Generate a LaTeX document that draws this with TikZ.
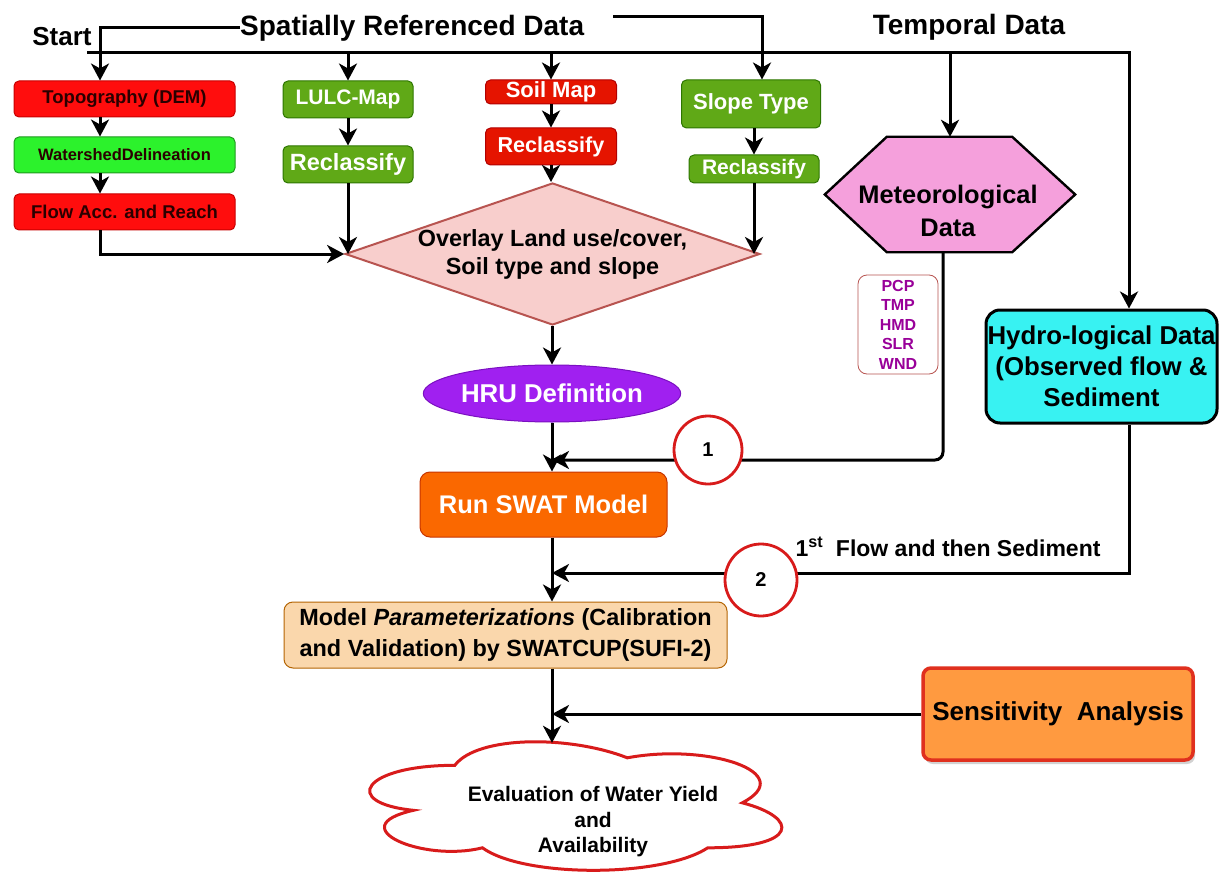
\documentclass[tikz,border=0pt]{standalone}
\usepackage{fontspec}
\setmainfont{Liberation Sans}
\usetikzlibrary{arrows.meta, shapes.geometric, shadows}

\definecolor{demred}{HTML}{FF0D0D}
\definecolor{demedge}{HTML}{C80000}
\definecolor{demtext}{HTML}{2A0000}
\definecolor{shedgreen}{HTML}{2CF22C}
\definecolor{shededge}{HTML}{1E9A1E}
\definecolor{mapgreen}{HTML}{60A917}
\definecolor{mapedge}{HTML}{2D7600}
\definecolor{soilred}{HTML}{E51400}
\definecolor{soiledge}{HTML}{B20000}
\definecolor{overfill}{HTML}{F8CECC}
\definecolor{overedge}{HTML}{B85450}
\definecolor{meteofill}{HTML}{F5A0DC}
\definecolor{pcptext}{HTML}{990099}
\definecolor{hydrofill}{HTML}{38F2F2}
\definecolor{hrufill}{HTML}{A020F0}
\definecolor{hruedge}{HTML}{7A10C0}
\definecolor{swatfill}{HTML}{FA6800}
\definecolor{swatedge}{HTML}{C73500}
\definecolor{modelfill}{HTML}{FAD7AC}
\definecolor{modeledge}{HTML}{B46504}
\definecolor{sensfill}{HTML}{FF9A40}
\definecolor{sensedge}{HTML}{E0301E}
\definecolor{ringred}{HTML}{D81B1B}

\newcommand{\fsz}[2]{\fontsize{#1pt}{#2pt}\selectfont\bfseries}

\tikzset{
  conn/.style={draw=black, line width=3pt, ->},
  txt/.style={inner sep=0pt, align=center},
  box/.style={rectangle, rounded corners=5pt, inner sep=0pt, align=center, line width=1pt},
  redbox/.style={box, fill=demred, draw=demedge, text=demtext},
  shedbox/.style={box, fill=shedgreen, draw=shededge, text=demtext},
  greenbox/.style={box, fill=mapgreen, draw=mapedge, text=white},
  soilbox/.style={box, fill=soilred, draw=soiledge, text=white},
  frame/.style={rectangle, inner sep=0pt, draw=none},
  badge/.style={circle, draw=ringred, fill=white, line width=2.8pt, inner sep=0pt, font=\fsz{20}{24}}
}

\begin{document}
\begin{tikzpicture}[x=1pt, y=-1pt, >={Stealth[length=17pt, width=18pt, inset=5pt]}]
  \useasboundingbox[fill=white] (0,0) rectangle (1222,877);

  % Headings
  \node[txt, font=\fsz{26}{30}] (start) at (62,37) {Start};
  \node[txt, font=\fsz{28}{32}, anchor=west] (spatial) at (240,28) {Spatially Referenced Data};
  \node[txt, font=\fsz{28}{32}] (temporal) at (969,27) {Temporal Data};

  % Helper points
  \coordinate (lcol) at (100,0);
  \coordinate (spine) at (552,0);
  \coordinate (tl) at (87,53);
  \coordinate (tr) at (1129,53);
  \coordinate (srt) at (613,17);
  \coordinate (j1) at (552,460);
  \coordinate (j2) at (552,573);

  % Spatial inputs
  \node[redbox, minimum width=221pt, minimum height=36pt, font=\fsz{18.5}{21}] (topo) at (124.5,99) {Topography (DEM)};
  \node[shedbox, minimum width=221pt, minimum height=36pt, font=\fsz{16.5}{19}] (shed) at (124.5,155) {WatershedDelineation};
  \node[redbox, minimum width=221pt, minimum height=36pt, font=\fsz{18.5}{21}] (flow) at (124.5,212) {Flow Acc. and Reach};
  \node[greenbox, minimum width=130pt, minimum height=37pt, font=\fsz{21}{24}] (lulc) at (348,99.5) {LULC-Map};
  \node[greenbox, minimum width=130pt, minimum height=37pt, font=\fsz{23.5}{26}] (lulcre) at (348,164.5) {Reclassify};
  \node[soilbox, minimum width=131pt, minimum height=24pt, font=\fsz{22}{24}] (soil) at (551,92) {Soil Map};
  \node[soilbox, minimum width=131pt, minimum height=37pt, font=\fsz{21.6}{24}] (soilre) at (551,146.5) {Reclassify};
  \node[greenbox, minimum width=139pt, minimum height=48pt, font=\fsz{22}{24}] (slope) at (751,104) {Slope Type};
  \node[greenbox, minimum width=130pt, minimum height=28pt, font=\fsz{21}{24}] (slopere) at (754,169) {Reclassify};

  % Overlay and HRU
  \node[diamond, aspect=2.92, minimum width=409pt, minimum height=140pt, inner sep=0pt,
        fill=overfill, draw=overedge, line width=2pt, align=center, font=\fsz{23.4}{28}] (overlay)
        at (552.5,254) {Overlay Land use/cover,\\Soil type and slope};
  \node[ellipse, minimum width=247pt, minimum height=57pt, inner sep=0pt, fill=hrufill,
        draw=hruedge, line width=1pt, text=white, font=\fsz{25.8}{28}] (hru) at (552,393.5) {HRU Definition};

  % Temporal inputs
  \node[frame, minimum width=250pt, minimum height=115pt] (meteo) at (950,194.5) {};
  \draw[fill=meteofill, line width=2.4pt, line join=miter]
    (meteo.west) -- ([xshift=62pt]meteo.north west) -- ([xshift=-63pt]meteo.north east)
    -- (meteo.east) -- ([xshift=-63pt]meteo.south east) -- ([xshift=62pt]meteo.south west) -- cycle;
  \node[txt, font=\fsz{25.4}{33}] (meteotxt) at (948,211) {Meteorological\\Data};
  \node[box, rounded corners=9pt, minimum width=80pt, minimum height=99pt, fill=white,
        draw=overedge, line width=0.8pt, text=pcptext, font=\fsz{16}{19.5}] (pcp)
        at (898,324.5) {PCP\\TMP\\HMD\\SLR\\WND};
  \node[box, rounded corners=14pt, minimum width=231pt, minimum height=113pt, fill=hydrofill,
        draw=black, line width=3pt, font=\fsz{25.8}{31}] (hydro)
        at (1101.5,366.5) {Hydro-logical Data\\(Observed flow \&\\Sediment};

  % Model chain
  \node[box, rounded corners=10pt, minimum width=247pt, minimum height=65pt, fill=swatfill,
        draw=swatedge, text=white, font=\fsz{25.5}{28}] (swat) at (543.5,504.5) {Run SWAT Model};
  \node[box, rounded corners=9pt, minimum width=443pt, minimum height=66pt, fill=modelfill,
        draw=modeledge, font=\fsz{23.4}{31}] (model) at (505.5,635)
        {Model \textit{Parameterizations} (Calibration\\and Validation) by SWATCUP(SUFI-2)};
  \node[box, rounded corners=8pt, minimum width=270pt, minimum height=92pt, fill=sensfill,
        draw=sensedge, line width=3.5pt, font=\fsz{26}{30},
        drop shadow={opacity=0.35, shadow xshift=2pt, shadow yshift=-4pt}] (sens)
        at (1058,714) {Sensitivity\ \ Analysis};

  % Cloud
  \node[frame, minimum width=423pt, minimum height=127pt] (eval) at (569.5,806.5) {};
  \begin{scope}[shift={([xshift=-18pt, yshift=15pt]eval.north west)}, x=460pt, y=-150pt]
    \draw[fill=white, draw=ringred, line width=3pt]
      (0.25,0.25) .. controls (0.05,0.25) and (0,0.5) .. (0.16,0.55)
      .. controls (0,0.66) and (0.18,0.9) .. (0.31,0.8)
      .. controls (0.4,1) and (0.7,1) .. (0.8,0.8)
      .. controls (1,0.8) and (1,0.6) .. (0.875,0.5)
      .. controls (1,0.3) and (0.8,0.1) .. (0.625,0.2)
      .. controls (0.5,0.05) and (0.3,0.05) .. (0.25,0.25) -- cycle;
  \end{scope}
  \node[txt, font=\fsz{21}{25.5}] (evaltxt) at (593,822)
        {Evaluation of Water Yield\\and\\Availability};
  \node[txt, font=\fsz{23}{27}] (note) at (948,547) {1\textsuperscript{st}\ \ Flow and then Sediment};

  % Heading lines
  \draw[conn] (spatial.west) -| (topo.north -| lcol);
  \draw[conn] (srt) -| ([xshift=11pt]slope.north);
  \draw[conn] (tl) -- (tr) -- (tr |- hydro.north);
  \draw[conn] (lulc.north |- tl) -- (lulc.north);
  \draw[conn] (soil.north |- tl) -- (soil.north);
  \draw[conn] (meteo.north |- tl) -- (meteo.north);

  % Spatial chains
  \draw[conn] (topo.south -| lcol) -- (shed.north -| lcol);
  \draw[conn] (shed.south -| lcol) -- (flow.north -| lcol);
  \draw[conn] (flow.south -| lcol) |- (overlay.west);
  \draw[conn] (lulc) -- (lulcre);
  \draw[conn] (lulcre) -- (lulcre.south |- overlay.west);
  \draw[conn] (soil) -- (soilre);
  \draw[conn] (soilre.south) -- (soilre.south |- overlay.north);
  \draw[conn] (slope.south -| slopere.north) -- (slopere.north);
  \draw[conn] (slopere) -- (slopere.south |- overlay.east);

  % Spine
  \draw[conn] (overlay.south -| spine) -- (hru.north -| spine);
  \draw[conn] (hru.south -| spine) -- (swat.north -| spine);
  \draw[conn] (swat.south -| spine) -- (model.north -| spine);
  \draw[conn] (model.south -| spine) -- (eval.north -| spine);

  % Feeds into the spine
  \draw[conn, rounded corners=8pt] ([xshift=-7pt]meteo.south) |- (j1);
  \draw[conn] (hydro.south -| tr) |- (j2);
  \draw[conn] (sens.west) -- (sens.west -| spine);

  % Step marks
  \node[badge, minimum size=68pt] (one) at (708,450) {1};
  \node[badge, minimum size=72pt] (two) at (761,580) {2};
\end{tikzpicture}
\end{document}
